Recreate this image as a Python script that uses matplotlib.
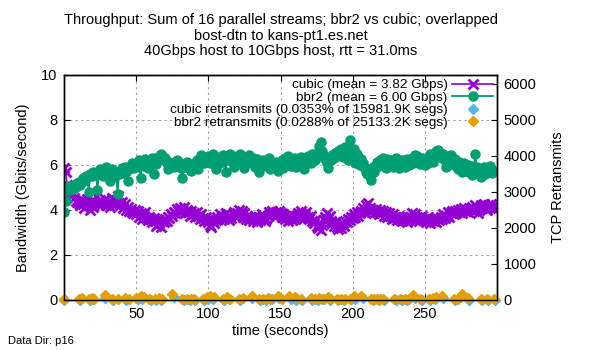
import matplotlib
matplotlib.use("Agg")
import matplotlib.pyplot as plt

plt.rcParams['font.family'] = ['Liberation Sans', 'DejaVu Sans']

# debit par seconde (Gbps), t = 0..298
cubic_bw = [
    5.85, 5.7, 5.1, 4.9, 4.95, 4.8, 4.7, 4.55, 4.4, 4.35,
    4.3, 4.2, 4.45, 4.25, 4.1, 4.35, 4.5, 4.2, 4.0, 4.3,
    4.15, 4.4, 4.6, 4.3, 4.2, 4.45, 4.25, 4.35, 4.5, 4.2,
    4.4, 4.3, 4.15, 4.55, 4.35, 4.25, 4.45, 4.6, 4.3, 4.2,
    4.35, 4.1, 4.25, 4.0, 4.15, 3.95, 4.05, 3.9, 3.85, 4.0,
    3.8, 3.95, 3.7, 3.85, 3.6, 3.75, 3.9, 3.65, 3.55, 3.7,
    3.6, 3.45, 3.65, 3.5, 3.3, 3.55, 3.4, 3.25, 3.5, 3.45,
    3.6, 3.5, 3.7, 3.65, 3.8, 3.75, 3.9, 3.85, 4.05, 3.95,
    4.1, 3.9, 4.0, 4.15, 3.85, 4.0, 3.9, 3.75, 3.95, 3.8,
    3.85, 3.7, 3.9, 3.75, 3.6, 3.8, 3.65, 3.5, 3.7, 3.55,
    3.45, 3.35, 3.25, 3.5, 3.4, 3.55, 3.7, 3.6, 3.8, 3.65,
    3.75, 3.6, 3.85, 3.7, 3.55, 3.75, 3.65, 3.8, 3.9, 3.7,
    3.85, 4.0, 3.8, 3.95, 3.7, 3.85, 3.6, 3.75, 3.55, 3.7,
    3.65, 3.5, 3.75, 3.6, 3.45, 3.7, 3.55, 3.8, 3.65, 3.5,
    3.6, 3.75, 3.9, 3.8, 3.95, 3.85, 3.7, 3.9, 3.8, 3.95,
    3.85, 3.7, 3.8, 3.6, 3.75, 3.5, 3.65, 3.8, 3.55, 3.7,
    3.6, 3.75, 3.85, 3.7, 3.95, 3.8, 3.65, 3.75, 3.9, 3.7,
    3.6, 3.75, 3.5, 3.4, 3.55, 3.3, 3.2, 3.4, 3.1, 3.35,
    3.55, 3.7, 3.85, 3.6, 3.75, 3.5, 3.4, 3.3, 3.45, 3.25,
    3.15, 3.35, 3.2, 3.4, 3.3, 3.5, 3.45, 3.6, 3.55, 3.7,
    3.65, 3.8, 3.7, 3.9, 3.75, 3.85, 3.95, 4.1, 3.9, 4.2,
    4.05, 4.3, 4.1, 3.95, 4.0, 3.85, 4.05, 3.9, 3.8, 4.0,
    3.85, 3.95, 3.75, 3.9, 3.7, 3.85, 3.75, 3.6, 3.8, 3.65,
    3.7, 3.55, 3.75, 3.6, 3.5, 3.7, 3.55, 3.65, 3.45, 3.6,
    3.7, 3.85, 3.65, 3.8, 3.55, 3.7, 3.5, 3.65, 3.75, 3.55,
    3.6, 3.45, 3.7, 3.55, 3.4, 3.6, 3.5, 3.65, 3.45, 3.6,
    3.55, 3.7, 3.6, 3.8, 3.65, 3.75, 3.9, 3.7, 3.85, 3.95,
    3.8, 3.95, 3.85, 4.0, 3.9, 4.05, 3.85, 4.1, 3.95, 4.0,
    3.9, 4.1, 4.0, 4.15, 3.95, 4.2, 4.05, 3.85, 4.1, 4.2,
    4.1, 4.25, 4.15, 4.0, 4.2, 4.1, 4.25, 4.15, 4.05,
]
bbr2_bw = [
    3.9, 4.4, 4.9, 5.05, 4.9, 5.0, 4.95, 5.1, 5.0, 5.2,
    5.25, 5.1, 5.35, 5.4, 5.3, 5.5, 5.45, 4.8, 5.6, 5.5,
    5.7, 5.55, 5.65, 4.9, 5.6, 5.8, 5.7, 5.5, 5.65, 5.9,
    5.75, 5.6, 5.3, 5.8, 5.65, 5.5, 5.7, 4.7, 5.6, 5.75,
    5.85, 5.65, 5.9, 5.7, 5.3, 5.8, 5.95, 6.1, 5.85, 6.0,
    6.05, 5.9, 6.2, 5.4, 6.1, 5.95, 6.25, 6.1, 5.85, 6.0,
    6.15, 6.3, 5.6, 6.2, 6.05, 6.35, 6.25, 6.5, 6.4, 6.2,
    6.3, 6.1, 5.8, 6.15, 6.0, 6.1, 5.9, 6.05, 6.2, 5.95,
    6.1, 5.85, 5.4, 6.0, 5.9, 6.15, 6.05, 5.9, 5.75, 6.0,
    6.1, 5.95, 6.2, 5.8, 6.3, 6.45, 6.25, 6.1, 6.35, 6.2,
    6.4, 6.1, 6.3, 6.5, 6.3, 5.8, 6.2, 6.35, 6.1, 6.3,
    6.45, 6.25, 5.7, 6.4, 6.2, 6.5, 6.35, 6.15, 5.9, 6.3,
    6.4, 6.2, 6.5, 6.3, 6.1, 5.85, 6.35, 6.25, 6.45, 6.2,
    6.1, 6.3, 5.9, 6.05, 6.25, 5.7, 6.15, 6.0, 6.2, 6.1,
    5.95, 6.05, 6.3, 5.8, 6.1, 5.9, 6.0, 6.15, 5.75, 6.1,
    6.0, 6.2, 5.85, 6.3, 6.1, 6.4, 6.2, 5.95, 6.25, 6.1,
    6.3, 5.9, 6.15, 6.05, 6.35, 6.2, 5.8, 6.3, 6.15, 6.4,
    6.25, 6.1, 6.5, 6.35, 6.2, 6.55, 6.4, 6.85, 7.0, 6.6,
    6.4, 6.25, 6.1, 5.85, 6.3, 6.2, 6.45, 6.3, 6.55, 6.4,
    6.6, 6.45, 6.7, 6.35, 6.5, 6.8, 6.55, 6.2, 7.1, 6.6,
    6.4, 6.7, 6.1, 6.5, 6.35, 6.0, 6.25, 6.1, 5.9, 5.7,
    5.6, 5.8, 5.5, 5.35, 5.9, 5.7, 6.0, 6.15, 5.95, 6.2,
    6.05, 6.3, 6.1, 5.85, 6.25, 6.0, 6.2, 6.05, 5.9, 6.15,
    6.3, 6.1, 5.85, 6.0, 6.2, 6.05, 5.9, 6.1, 6.25, 6.0,
    6.15, 6.3, 6.1, 6.45, 6.25, 6.4, 6.2, 6.05, 6.3, 6.15,
    6.0, 6.25, 6.1, 6.35, 6.5, 6.3, 6.15, 6.4, 6.6, 6.65,
    6.45, 6.55, 6.3, 6.5, 6.2, 5.9, 6.35, 6.1, 6.45, 6.2,
    6.0, 6.25, 6.05, 5.8, 6.15, 5.95, 5.7, 6.1, 5.85, 5.75,
    6.0, 5.7, 5.95, 5.55, 5.8, 6.5, 5.9, 5.65, 5.8, 5.45,
    5.75, 5.9, 5.6, 5.85, 5.7, 5.95, 5.8, 5.65, 5.75,
]
temps = list(range(len(cubic_bw)))

# retransmissions (segments)
cubic_rt_t = [0, 11, 18, 20, 28, 34, 43, 51, 54, 60,
              64, 67, 76, 83, 87, 91, 97, 100, 103, 111,
              114, 122, 130, 136, 140, 144, 149, 157, 161, 165,
              172, 176, 179, 184, 190, 194, 199, 202, 207, 214,
              218, 222, 230, 234, 238, 243, 248, 254, 257, 263,
              271, 275, 281, 290, 294, 299]
cubic_rt = [10, 0, 5, 15, 60, 0, 10, 20, 30, 5,
            0, 10, 70, 0, 5, 10, 0, 40, 25, 0,
            20, 5, 60, 10, 0, 15, 50, 20, 10, 0,
            5, 0, 20, 10, 0, 5, 15, 30, 50, 0,
            5, 10, 0, 5, 10, 60, 0, 10, 20, 50,
            5, 80, 0, 10, 5, 0]
bbr2_rt_t = [0, 10, 12, 17, 19, 21, 28, 33, 37, 42,
             45, 50, 53, 55, 59, 63, 66, 68, 75, 82,
             85, 88, 90, 96, 99, 101, 104, 110, 113, 115,
             121, 124, 130, 135, 138, 141, 143, 148, 151, 156,
             160, 164, 171, 174, 177, 180, 183, 185, 189, 192,
             195, 198, 201, 206, 213, 215, 217, 219, 221, 229,
             233, 236, 239, 242, 247, 253, 256, 258, 262, 270,
             273, 276, 280, 289, 293, 298]
bbr2_rt = [40, 20, 50, 30, 55, 35, 130, 25, 40, 45,
           30, 60, 110, 80, 30, 25, 45, 35, 160, 20,
           35, 25, 30, 15, 90, 110, 70, 20, 75, 40,
           30, 45, 120, 35, 25, 45, 40, 120, 20, 110,
           85, 30, 45, 25, 60, 40, 70, 35, 20, 25,
           30, 40, 110, 115, 15, 20, 25, 30, 20, 35,
           25, 30, 40, 150, 30, 40, 55, 70, 120, 35,
           25, 170, 45, 30, 35, 40]

labels = ["cubic (mean = 3.82 Gbps)",
          "bbr2 (mean = 6.00 Gbps)",
          "cubic retransmits (0.0353% of 15981.9K segs)",
          "bbr2 retransmits (0.0288% of 25133.2K segs)"]

fig = plt.figure(figsize=(6, 3.5), dpi=100)
ax = fig.add_axes([0.107, 0.143, 0.721, 0.643])
ax2 = ax.twinx()

l1, = ax.plot(temps, cubic_bw, color="#9400D3", marker="x", markersize=7.5,
              markeredgewidth=2.0, linewidth=1.2)
l2, = ax.plot(temps, bbr2_bw, color="#009E73", marker="o", markersize=6.5,
              linewidth=1.3)
l3, = ax2.plot(cubic_rt_t, cubic_rt, linestyle="none", marker="D",
               markersize=5, color="#56B4E9", clip_on=False)
l4, = ax2.plot(bbr2_rt_t, bbr2_rt, linestyle="none", marker="D",
               markersize=5, color="#E69F00", clip_on=False)

ax.set_xlim(0, 300)
ax.set_ylim(0, 10)
ax2.set_ylim(0, 6250)
ax.set_xticks([50, 100, 150, 200, 250])
ax.set_yticks([0, 2, 4, 6, 8, 10])
ax2.set_yticks([0, 1000, 2000, 3000, 4000, 5000, 6000])
ax.grid(True, color="#a0a0a0", linestyle=(0, (2, 3)), linewidth=0.8)
ax.set_axisbelow(True)

ax.tick_params(direction="in", top=True, length=4, labelsize=10.5, pad=5)
ax2.tick_params(direction="in", length=4, labelsize=10.5, pad=5)
for a in (ax, ax2):
    for s in a.spines.values():
        s.set_linewidth(1.0)

ax.set_xlabel("time (seconds)", fontsize=10.5, labelpad=2)
ax.set_ylabel("Bandwidth (Gbits/second)", fontsize=10.5, labelpad=8)
ax2.set_ylabel("TCP Retransmits", fontsize=10.5, labelpad=10)

leg = ax2.legend([l1, l2, l3, l4], labels, loc="upper right",
                 bbox_to_anchor=(1.0, 1.0), frameon=False, markerfirst=False,
                 fontsize=9.7, handlelength=3.0, labelspacing=0.0,
                 borderaxespad=0.1, borderpad=0.2, handletextpad=0.35)
for t in leg.get_texts():
    t.set_ha("right")

cx = (0.107 + 0.107 + 0.721) / 2
fig.text(cx, 0.943, "Throughput: Sum of 16 parallel streams; bbr2 vs cubic; overlapped",
         ha="center", va="center", fontsize=10.5)
fig.text(cx, 0.897, "bost-dtn to kans-pt1.es.net", ha="center", va="center",
         fontsize=10.5)
fig.text(cx, 0.854, "40Gbps host to 10Gbps host, rtt = 31.0ms", ha="center",
         va="center", fontsize=10.5)
fig.text(0.013, 0.025, "Data Dir: p16", fontsize=8, ha="left", va="center")

fig.savefig("out.png", dpi=100)
